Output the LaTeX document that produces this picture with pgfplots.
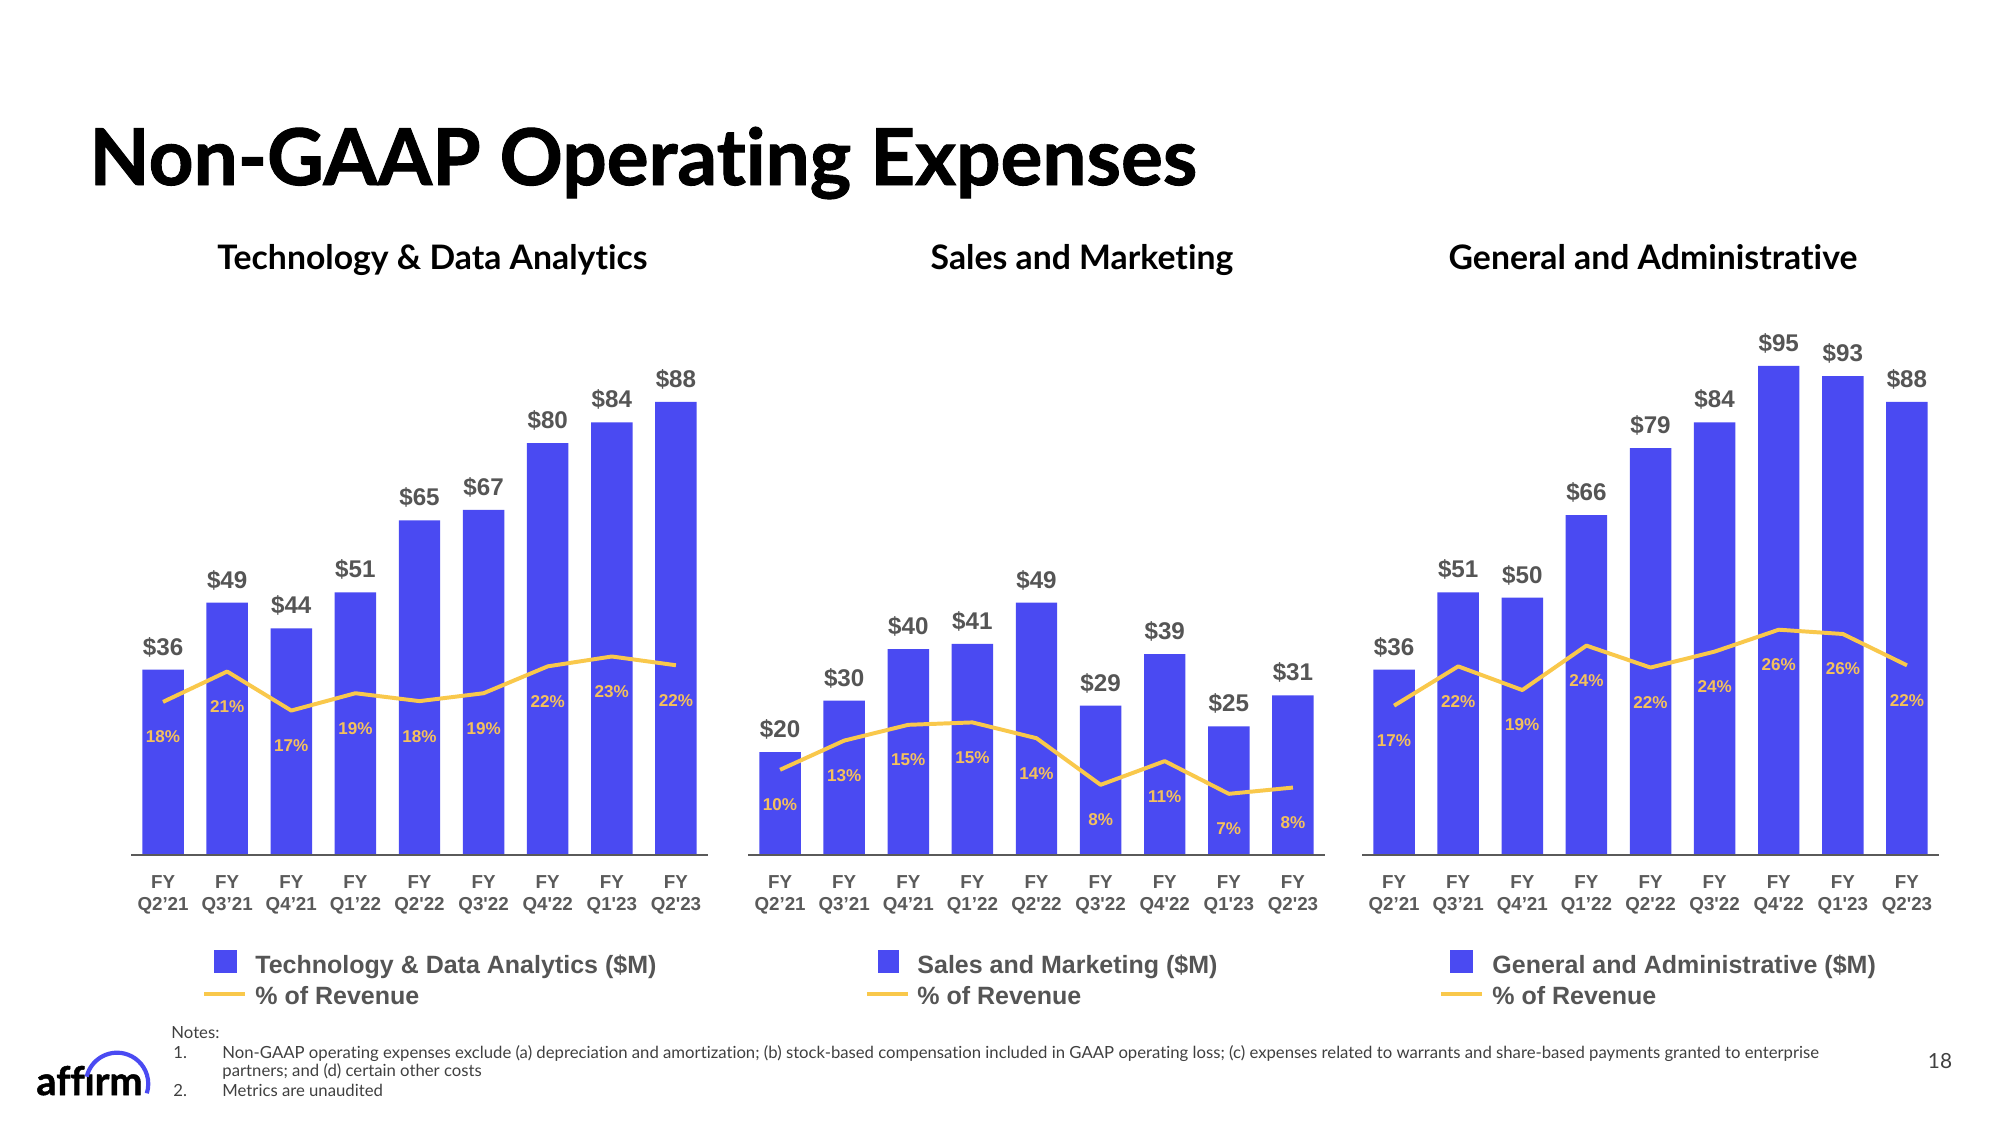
\documentclass[border=0pt]{standalone}
\usepackage{pgfplots}
\usepackage{pgfplotstable}
\pgfplotsset{compat=1.18}
\usepackage{fontspec}
\setmainfont{Liberation Sans}
\newfontfamily\lato{Lato}[Ligatures={CommonOff}]
\newfontfamily\latoH{Lato}[Ligatures={CommonOff}, BoldFeatures={FakeBold=1.2}]
\definecolor{barblue}{HTML}{4A4AF2}
\definecolor{lineyel}{HTML}{F9C84B}
\definecolor{pctyel}{HTML}{F5C15C}
\definecolor{txtgray}{HTML}{555555}
\definecolor{axgray}{HTML}{5A5A5A}
\definecolor{notegray}{HTML}{404040}

\pgfplotstableread{
x v p lab
0 36 17.84 18
1 49 21.38 21
2 44 16.83 17
3 51 18.85 19
4 65 17.93 18
5 67 18.85 19
6 80 21.98 22
7 84 23.13 23
8 88 22.11 22
}\tda
\pgfplotstableread{
x v p lab
0 20 9.93 10
1 30 13.33 13
2 40 15.17 15
3 41 15.45 15
4 49 13.61 14
5 29 8.18 8
6 39 10.94 11
7 25 7.13 7
8 31 7.86 8
}\snm
\pgfplotstableread{
x v p lab
0 36 17.4 17
1 51 21.98 22
2 50 19.22 19
3 66 24.4 24
4 79 21.84 22
5 84 23.7 24
6 95 26.25 26
7 93 25.75 26
8 88 22.1 22
}\gna

\pgfplotsset{
  common/.style={
    at={({#1*0.48pt},{-410.4pt})}, anchor=south west, scale only axis,
    width=276.96pt, height=247.2pt,
    xmin=-0.5, xmax=8.5, clip=false,
  },
  panel/.style={
    common=#1, ymin=0, ymax=100,
    axis on top,
    axis x line*=bottom, axis y line=none,
    x axis line style={-, draw=axgray, line width=1.3pt},
    xtick={0,...,8},
    xticklabels={{FY\\Q2’21},{FY\\Q3’21},{FY\\Q4’21},{FY\\Q1’22},{FY\\Q2\textquotesingle22},{FY\\Q3\textquotesingle22},{FY\\Q4\textquotesingle22},{FY\\Q1\textquotesingle23},{FY\\Q2\textquotesingle23}},
    major tick length=0pt,
    xticklabel style={font=\bfseries\fontsize{9}{10.4}\selectfont, text=axgray, align=center, inner sep=0pt, anchor=north, yshift=-9.8pt},
  },
  pctpanel/.style={common=#1, ymin=0, ymax=60, hide axis},
  barplot/.style={ybar, bar width=19.9pt, bar shift=0pt, fill=barblue, draw=none,
    point meta=explicit symbolic,
    nodes near coords={\$\pgfplotspointmeta},
    every node near coord/.append style={font=\bfseries\fontsize{11.6}{13}\selectfont, text=txtgray, anchor=center, yshift=10.8pt}},
  pctplot/.style={lineyel, line width=1.9pt, line join=round, no markers,
    point meta=explicit symbolic,
    nodes near coords={\pgfplotspointmeta\%},
    every node near coord/.append style={font=\bfseries\fontsize{8.2}{9}\selectfont, text=pctyel, anchor=center, yshift=-16.8pt}},
}

\begin{document}
\begin{tikzpicture}[x=0.48pt, y=-0.48pt]
\path[fill=white, use as bounding box] (0,0) rectangle (2000,1125);

% Title
\node[anchor=base west, inner sep=0pt, font=\latoH\bfseries\fontsize{37.6}{44}\selectfont] at (89,185) {Non-GAAP Operating Expenses};

% Subtitles
\node[anchor=base, inner sep=0pt, font=\lato\bfseries\fontsize{16.2}{19}\selectfont] at (432.5,269) {Technology \& Data Analytics};
\node[anchor=base, inner sep=0pt, font=\lato\bfseries\fontsize{16.2}{19}\selectfont] at (1082,269) {Sales and Marketing};
\node[anchor=base, inner sep=0pt, font=\lato\bfseries\fontsize{16.2}{19}\selectfont] at (1653,269) {General and Administrative};

% Panel 1
\begin{axis}[panel=131]
\addplot[barplot] table[x=x, y=v, meta=v] {\tda};
\end{axis}
\begin{axis}[pctpanel=131]
\addplot[pctplot] table[x=x, y=p, meta=lab] {\tda};
\end{axis}

% Panel 2
\begin{axis}[panel=748]
\addplot[barplot] table[x=x, y=v, meta=v] {\snm};
\end{axis}
\begin{axis}[pctpanel=748]
\addplot[pctplot] table[x=x, y=p, meta=lab] {\snm};
\end{axis}

% Panel 3
\begin{axis}[panel=1362]
\addplot[barplot] table[x=x, y=v, meta=v] {\gna};
\end{axis}
\begin{axis}[pctpanel=1362]
\addplot[pctplot] table[x=x, y=p, meta=lab] {\gna};
\end{axis}

% Legends
\begin{scope}[every node/.style={anchor=base west, inner sep=0pt, font=\bfseries\fontsize{12}{14}\selectfont, text=txtgray}]
\fill[barblue] (214,950) rectangle (237,973);
\draw[lineyel, line width=2pt] (204,994) -- (245,994);
\node at (255,973) {Technology \& Data Analytics (\$M)};
\node at (255,1004) {\% of Revenue};
\fill[barblue] (877.6,950) rectangle (899.2,973);
\draw[lineyel, line width=2pt] (867.3,994) -- (908.2,994);
\node at (917,973) {Sales and Marketing (\$M)};
\node at (917,1004) {\% of Revenue};
\fill[barblue] (1450,950) rectangle (1473,973);
\draw[lineyel, line width=2pt] (1441,994) -- (1482,994);
\node at (1492,973) {General and Administrative (\$M)};
\node at (1492,1004) {\% of Revenue};
\end{scope}

% Notes
\begin{scope}[every node/.style={anchor=base west, inner sep=0pt, font=\lato\fontsize{8.02}{9}\selectfont, text=notegray}]
\node at (171,1038) {Notes:};
\node at (173,1058) {1.};
\node at (222,1058) {Non-GAAP operating expenses exclude (a) depreciation and amortization; (b) stock-based compensation included in GAAP operating loss; (c) expenses related to warrants and share-based payments granted to enterprise};
\node at (222,1076) {partners; and (d) certain other costs};
\node at (173,1096) {2.};
\node at (222,1096) {Metrics are unaudited};
\end{scope}

% Page number
\node[anchor=base, inner sep=0pt, font=\lato\fontsize{10}{12}\selectfont, text=notegray] at (1940,1068) {18};

% Logo
\node[anchor=base west, inner sep=0pt, font=\latoH\bfseries\fontsize{19}{23}\selectfont] at (36,1095) {aff\i rm};
\draw[barblue, line width=2pt] (86.7,1076.7) arc[start angle=166.7, end angle=-17.6, radius=14.98pt];
\end{tikzpicture}
\end{document}
